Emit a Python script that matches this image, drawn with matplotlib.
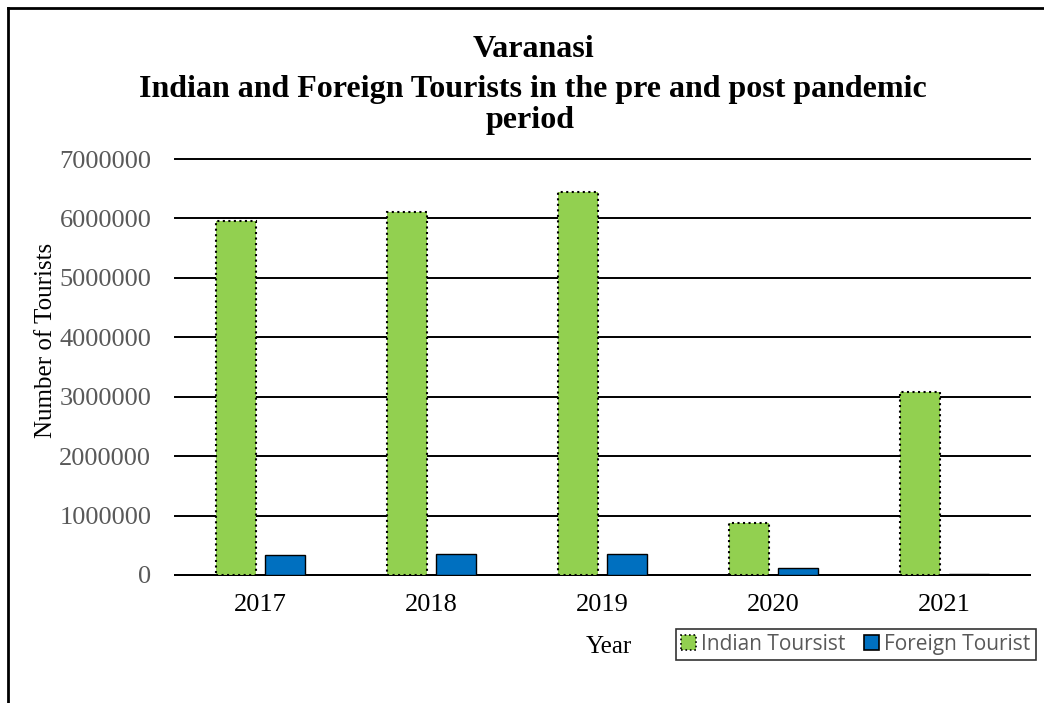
import numpy as np
import matplotlib.pyplot as plt
from matplotlib.lines import Line2D

years = ["2017", "2018", "2019", "2020", "2021"]
indian = [5950000, 6110000, 6440000, 880000, 3080000]
foreign = [340000, 350000, 350000, 110000, 20000]

GREEN = "#92D050"
BLUE = "#0070C0"
GREY = "#595959"
SERIF = ["Liberation Serif", "DejaVu Serif"]

fig = plt.figure(figsize=(10.44, 7.03), dpi=100)
ax = fig.add_axes([0.1676, 0.1821, 0.819, 0.5917])

x = np.arange(len(years))
w = 0.234
ax.bar(x - 0.142, indian, width=w, color=GREEN, edgecolor="black",
       linestyle=":", linewidth=1.5, label="Indian Toursist", zorder=3)
ax.bar(x + 0.142, foreign, width=w, color=BLUE, edgecolor="black",
       linewidth=1.0, label="Foreign Tourist", zorder=3)

ax.set_xlim(-0.5, len(years) - 0.5)
ax.set_ylim(0, 7000000)
ax.set_yticks(np.arange(0, 7000001, 1000000))
ax.yaxis.grid(True, color="black", linewidth=1.4, zorder=0)
for gl in ax.yaxis.get_gridlines():
    gl.set_clip_on(False)
ax.set_axisbelow(True)
for s in ["left", "right", "top"]:
    ax.spines[s].set_visible(False)
ax.spines["bottom"].set_linewidth(1.4)
ax.tick_params(axis="both", length=0, labelsize=19, labelcolor=GREY)
ax.tick_params(axis="y", pad=17)
ax.tick_params(axis="x", labelcolor="black", pad=14)
ax.set_xticks(x)
ax.set_xticklabels(years)
for t in ax.get_xticklabels() + ax.get_yticklabels():
    t.set_family(SERIF)
ax.yaxis.get_major_formatter().set_scientific(False)
ax.yaxis.get_major_formatter().set_useOffset(False)

fig.text(0.044, 0.516, "Number of Tourists", rotation=90, ha="center", va="center",
         fontsize=18, family=SERIF)
fig.text(0.583, 0.08, "Year", ha="center", va="center", fontsize=18, family=SERIF)

fig.text(0.511, 1 - 57 / 703, "Varanasi", ha="center", va="baseline", fontsize=23,
         fontweight="bold", family=SERIF)
fig.text(0.51, 1 - 97 / 703, "Indian and Foreign Tourists in the pre and post pandemic",
         ha="center", va="baseline", fontsize=23, fontweight="bold", family=SERIF)
fig.text(0.508, 1 - 128 / 703, "period", ha="center", va="baseline", fontsize=23,
         fontweight="bold", family=SERIF)

handles = [
    plt.Rectangle((0, 0), 1, 1, facecolor=GREEN, edgecolor="black", linestyle=":", linewidth=1.2),
    plt.Rectangle((0, 0), 1, 1, facecolor=BLUE, edgecolor="black", linewidth=1.2),
]
leg = fig.legend(handles, ["Indian Toursist", "Foreign Tourist"], loc="center",
                 bbox_to_anchor=(0.8199, 0.0832), ncol=2, frameon=True, fancybox=False,
                 prop={"family": "Open Sans", "size": 15}, handlelength=0.7,
                 handleheight=0.7, handletextpad=0.25, columnspacing=0.9,
                 borderpad=0.25, borderaxespad=0)
leg.get_frame().set_edgecolor("black")
leg.get_frame().set_linewidth(1.2)
for t in leg.get_texts():
    t.set_color(GREY)

# outer chart border (left and top edges visible in the crop)
fig.add_artist(Line2D([8 / 1044, 8 / 1044], [0, 1 - 8 / 703], transform=fig.transFigure,
                      color="black", linewidth=2))
fig.add_artist(Line2D([8 / 1044, 1], [1 - 8 / 703, 1 - 8 / 703], transform=fig.transFigure,
                      color="black", linewidth=2))

fig.savefig("out.png", dpi=100)
